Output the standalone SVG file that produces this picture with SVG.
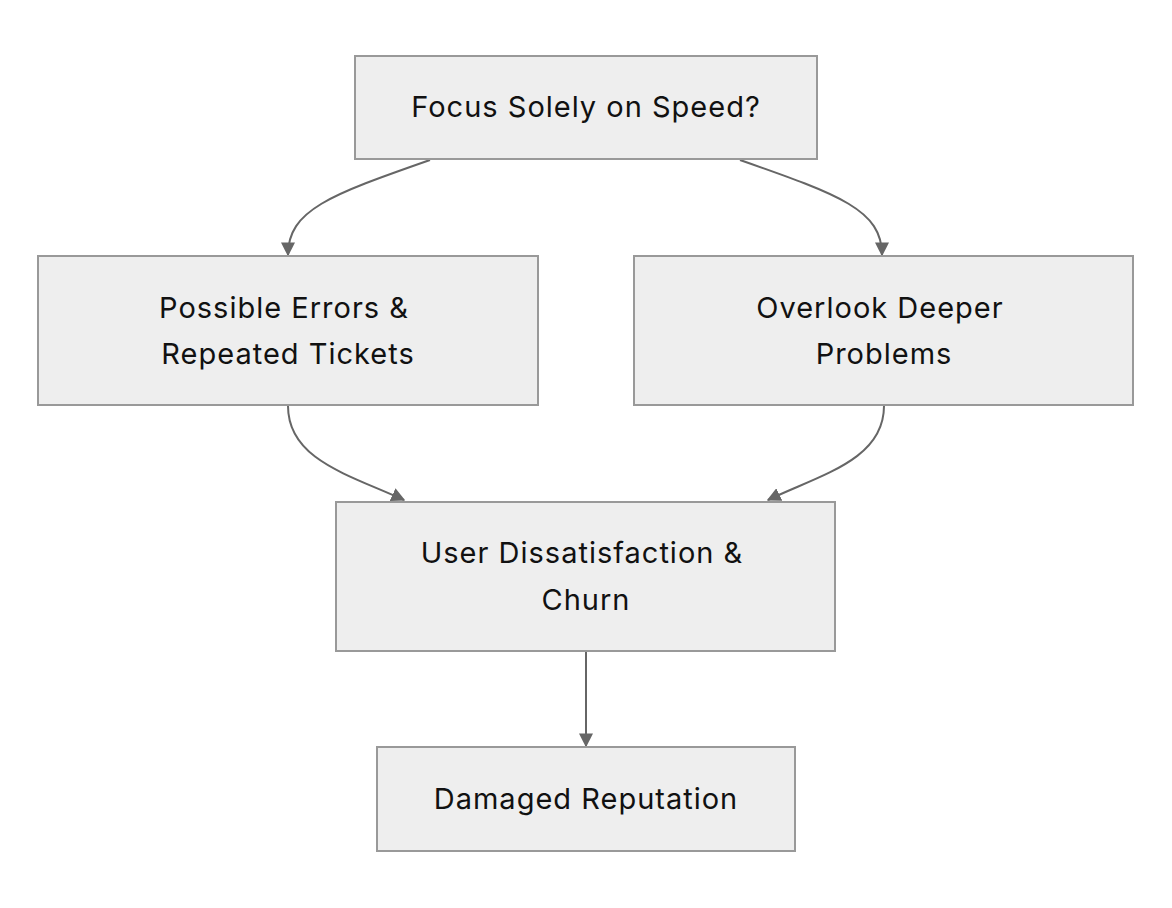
<svg xmlns="http://www.w3.org/2000/svg" width="1172" height="908" viewBox="0 0 1172 908">
<style>
.n{fill:#eeeeee;stroke:#999999;stroke-width:2}
.t{font-family:Inter,"Liberation Sans",sans-serif;font-size:29px;letter-spacing:1px;fill:#111;text-anchor:middle}
.e{fill:none;stroke:#666;stroke-width:2}
</style>
<defs><marker id="a" viewBox="0 0 10 10" refX="9" refY="5" markerWidth="7" markerHeight="7" orient="auto"><path d="M0,0L10,5L0,10z" fill="#666"/></marker></defs>
<rect width="1172" height="908" fill="#fff"/>
<g id="connectors">
<path class="e" d="M430,160 C330,195 288,210 288,255" marker-end="url(#a)"/>
<path class="e" d="M740,160 C840,195 882,210 882,255" marker-end="url(#a)"/>
<path class="e" d="M288,406 C288,460 350,475 404,500" marker-end="url(#a)"/>
<path class="e" d="M884,406 C884,460 820,475 768,500" marker-end="url(#a)"/>
<path class="e" d="M586,652 L586,746" marker-end="url(#a)"/>
</g>
<g id="n1"><rect class="n" x="355" y="56" width="462" height="103"/><text class="t" x="586" y="117">Focus Solely on Speed?</text></g>
<g id="n2"><rect class="n" x="38" y="256" width="500" height="149"/><text class="t" x="284" y="318">Possible Errors &amp;</text><text class="t" x="288" y="364">Repeated Tickets</text></g>
<g id="n3"><rect class="n" x="634" y="256" width="499" height="149"/><text class="t" x="880" y="318">Overlook Deeper</text><text class="t" x="884" y="364">Problems</text></g>
<g id="n4"><rect class="n" x="336" y="502" width="499" height="149"/><text class="t" x="582" y="563">User Dissatisfaction &amp;</text><text class="t" x="586" y="610">Churn</text></g>
<g id="n5"><rect class="n" x="377" y="747" width="418" height="104"/><text class="t" x="586" y="809">Damaged Reputation</text></g>
</svg>
